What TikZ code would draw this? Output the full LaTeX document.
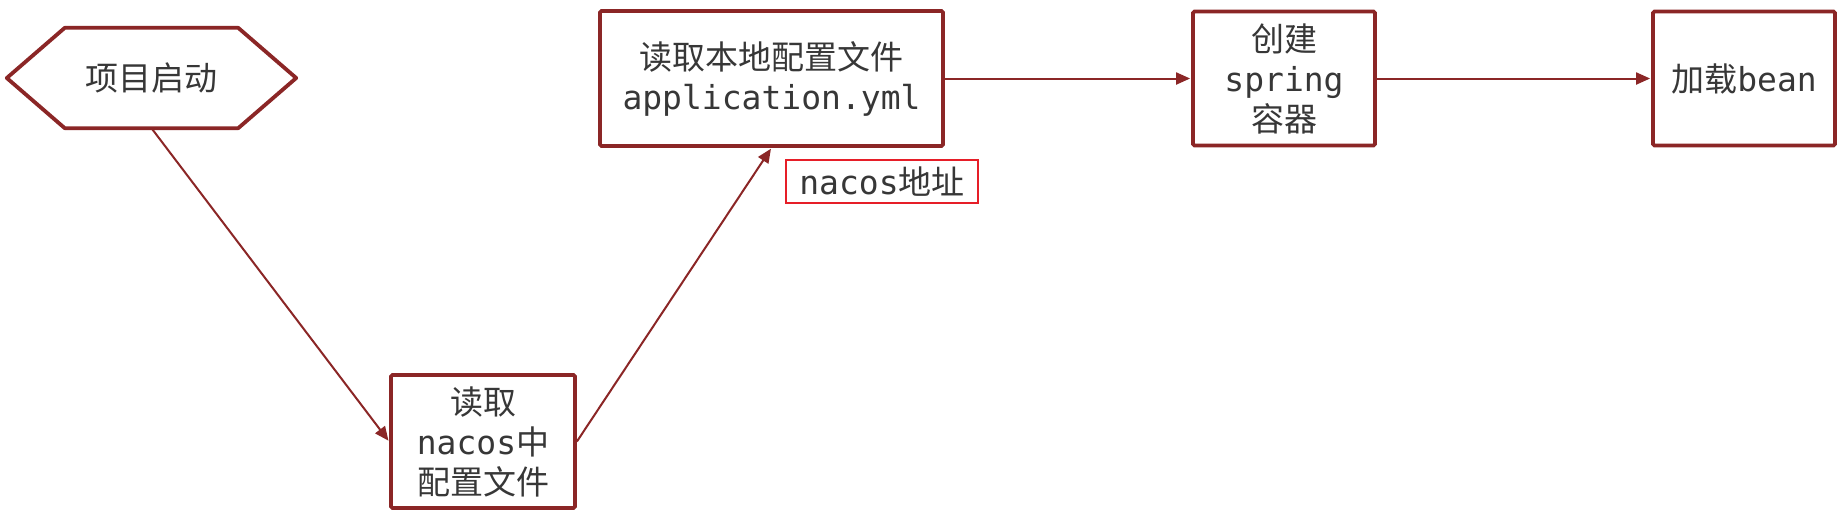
\documentclass[tikz,border=0pt]{standalone}
\usepackage{fontspec}
\setmainfont{DejaVu Sans Mono}
\newfontfamily\cjk{Noto Sans CJK SC}
\usetikzlibrary{arrows.meta,calc}
\definecolor{boxred}{RGB}{139,38,38}
\definecolor{labred}{RGB}{230,30,40}
\definecolor{txt}{RGB}{55,55,55}
\begin{document}
\begin{tikzpicture}[x=1pt,y=-1pt,
  every node/.style={font=\fontsize{33}{40}\selectfont, text=txt},
  box/.style={draw=boxred, line width=3.8pt, fill=white, rounded corners=1.5pt, align=center, inner sep=0pt},
  conn/.style={draw=boxred, line width=2pt, -{Triangle[length=14pt,width=12pt]}, shorten >=1pt},
]
\useasboundingbox[fill=white] (0,0) rectangle (1847,523);
% start hexagon
\node[inner sep=0pt, minimum width=289pt, minimum height=100pt] (hex) at (151.5,78) {{\cjk 项目启动}};
\draw[boxred, line width=3.8pt, line join=round]
  (hex.west) -- ([xshift=58pt]hex.north west) -- ([xshift=-58pt]hex.north east)
  -- (hex.east) -- ([xshift=-58pt]hex.south east) -- ([xshift=58pt]hex.south west) -- cycle;
% boxes
\node[box, minimum width=184pt, minimum height=133pt] (nacos) at (483,441.5)
  {{\cjk 读取}\\nacos{\cjk 中}\\{\cjk 配置文件}};
\node[box, minimum width=343pt, minimum height=135pt] (local) at (771.5,78.5)
  {{\cjk 读取本地配置文件}\\application.yml};
\node[box, minimum width=182pt, minimum height=134pt] (spring) at (1284,78.5)
  {{\cjk 创建}\\spring\\{\cjk 容器}};
\node[box, minimum width=182pt, minimum height=134pt] (bean) at (1744,78.5)
  {{\cjk 加载}bean};
% label
\node[draw=labred, line width=2.5pt, minimum width=192pt, minimum height=43pt, inner sep=0pt] (addr) at (882,181.5)
  {nacos{\cjk 地址}};
% connectors
\draw[conn] (hex.south) -- (nacos.west);
\draw[conn] (nacos.east) -- (local.south);
\draw[conn] (local.east) -- (spring.west);
\draw[conn] (spring.east) -- (bean.west);
\end{tikzpicture}
\end{document}
